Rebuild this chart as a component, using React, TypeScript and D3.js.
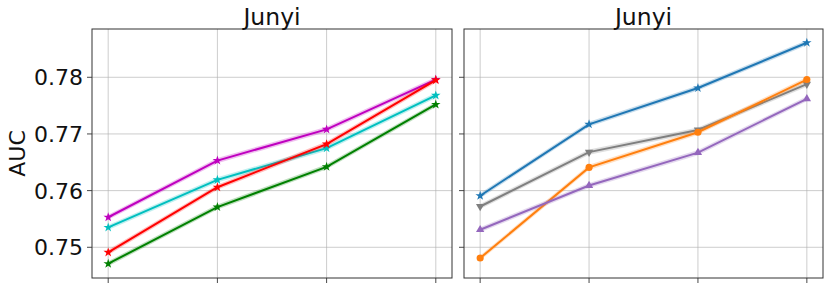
import React from "react";
import * as d3 from "d3";

const xSteps = [0, 1, 2, 3];
const yTicks = [0.75, 0.76, 0.77, 0.78];
const title = "Junyi";
const yLabel = "AUC";

const leftColors = ["#bf00bf", "#00bfbf", "#ff0000", "#008000"];
const leftMarkers = ["star", "star", "star", "star"];
const magentaVals = [0.7553, 0.7653, 0.7708, 0.7796];
const cyanVals = [0.7535, 0.7619, 0.7675, 0.7768];
const redVals = [0.7491, 0.7606, 0.7682, 0.7795];
const greenVals = [0.7471, 0.7571, 0.7642, 0.7752];

const rightColors = ["#1f77b4", "#7f7f7f", "#ff7f0e", "#9467bd"];
const rightMarkers = ["star", "triangleDown", "circle", "triangleUp"];
const blueVals = [0.7591, 0.7717, 0.7781, 0.7861];
const grayVals = [0.7572, 0.7668, 0.7707, 0.7788];
const orangeVals = [0.7481, 0.7641, 0.7703, 0.7796];
const purpleVals = [0.7531, 0.7609, 0.7667, 0.7762];

const spread = 0.00045;

const yDomain: [number, number] = [0.74458, 0.78852];
const panels = [
  { x0: 92, x1: 452, labels: true, series: [magentaVals, cyanVals, redVals, greenVals], colors: leftColors, markers: leftMarkers },
  { x0: 464, x1: 823, labels: false, series: [blueVals, grayVals, orangeVals, purpleVals], colors: rightColors, markers: rightMarkers },
];
const top = 29;
const bottom = 278;

function markerPath(kind: string, size: number) {
  const sym =
    kind === "star" ? d3.symbolStar :
    kind === "circle" ? d3.symbolCircle :
    d3.symbolTriangle;
  return d3.symbol(sym, size)() as string;
}

export default function App() {
  const y = d3.scaleLinear().domain(yDomain).range([bottom, top]);
  return (
    <svg width={830} height={288} style={{ position: "absolute", left: 0, top: 0 }} fontFamily="DejaVu Sans">
      <rect width={830} height={288} fill="#fff" />
      {panels.map((p, pi) => {
        const pad = (p.x1 - p.x0) * 0.045;
        const x = d3.scaleLinear().domain([0, 3]).range([p.x0 + pad, p.x1 - pad]);
        const line = d3.line<number>().x((_, i) => x(xSteps[i])).y((v) => y(v));
        const area = d3.area<number>().x((_, i) => x(xSteps[i])).y0((v) => y(v - spread)).y1((v) => y(v + spread));
        return (
          <g key={pi}>
            {xSteps.map((s) => (
              <g key={"x" + s}>
                <line x1={x(s)} x2={x(s)} y1={top} y2={bottom} stroke="#b0b0b0" strokeOpacity={0.7} strokeWidth={0.9} />
                <line x1={x(s)} x2={x(s)} y1={bottom} y2={bottom + 5} stroke="#333" strokeWidth={0.9} />
              </g>
            ))}
            {yTicks.map((t) => (
              <g key={"y" + t}>
                <line x1={p.x0} x2={p.x1} y1={y(t)} y2={y(t)} stroke="#b0b0b0" strokeOpacity={0.7} strokeWidth={0.9} />
                <line x1={p.x0 - 5} x2={p.x0} y1={y(t)} y2={y(t)} stroke="#333" strokeWidth={0.9} />
                {p.labels && (
                  <text x={p.x0 - 9} y={y(t)} dy="0.36em" textAnchor="end" fontSize={22} fill="#111">
                    {t.toFixed(2)}
                  </text>
                )}
              </g>
            ))}
            {p.series.map((vals, si) => (
              <g key={"s" + si}>
                <path d={area(vals) as string} fill={p.colors[si]} fillOpacity={0.25} />
                <path d={line(vals) as string} fill="none" stroke={p.colors[si]} strokeWidth={2} />
                {vals.map((v, i) => (
                  <path
                    key={i}
                    d={markerPath(p.markers[si], p.markers[si] === "star" ? 28 : p.markers[si] === "circle" ? 40 : 30)}
                    transform={`translate(${x(xSteps[i])},${y(v)})${p.markers[si] === "triangleDown" ? " rotate(180)" : ""}`}
                    fill={p.colors[si]}
                  />
                ))}
              </g>
            ))}
            <rect x={p.x0} y={top} width={p.x1 - p.x0} height={bottom - top} fill="none" stroke="#333" strokeWidth={1} />
            <text x={(p.x0 + p.x1) / 2} y={top - 4} textAnchor="middle" fontSize={23.5} fill="#111">
              {title}
            </text>
          </g>
        );
      })}
      <text transform={`translate(25,${(top + bottom) / 2}) rotate(-90)`} textAnchor="middle" fontSize={22} fill="#111">
        {yLabel}
      </text>
    </svg>
  );
}
